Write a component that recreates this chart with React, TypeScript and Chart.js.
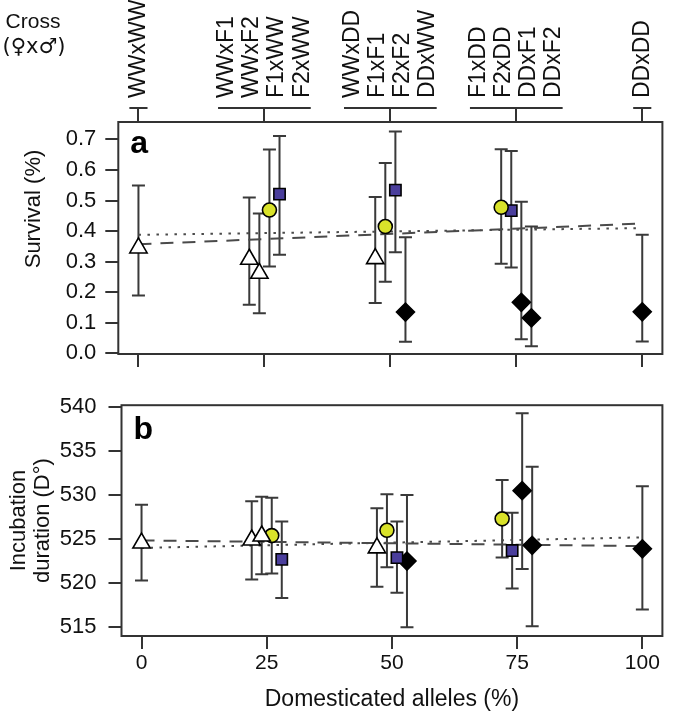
import React, { useEffect, useRef } from 'react';
import { Chart, registerables } from 'chart.js';

Chart.register(...registerables);

const FONT = "'Liberation Sans', Arial, Helvetica, sans-serif";
Chart.defaults.font.family = FONT;
Chart.defaults.color = '#111';

// ---------- data ----------
const crosses = ['WWxWW', 'WWxF1', 'WWxF2', 'F1xWW', 'F2xWW', 'WWxDD', 'F1xF1', 'F2xF2', 'DDxWW', 'F1xDD', 'F2xDD', 'DDxF1', 'DDxF2', 'DDxDD'];
const domesticated = [0, 22, 24, 26, 28, 47, 49, 51, 53, 72, 74, 76, 78, 100];
const femaleType = ['WW', 'WW', 'WW', 'F1', 'F2', 'WW', 'F1', 'F2', 'DD', 'F1', 'F2', 'DD', 'DD', 'DD'];

const survival = [0.345, 0.308, 0.262, 0.469, 0.521, 0.31, 0.415, 0.534, 0.135, 0.478, 0.467, 0.167, 0.116, 0.136];
const survivalLow = [0.189, 0.159, 0.131, 0.284, 0.323, 0.165, 0.234, 0.331, 0.038, 0.293, 0.281, 0.046, 0.023, 0.039];
const survivalHigh = [0.549, 0.51, 0.458, 0.667, 0.711, 0.512, 0.623, 0.726, 0.38, 0.668, 0.662, 0.496, 0.415, 0.388];

const incubation = [524.55, 524.9, 525.35, 525.4, 522.7, 524.0, 526.0, 522.9, 522.5, 527.3, 523.7, 530.5, 524.3, 523.9];
const incubationLow = [520.3, 520.4, 521.0, 521.1, 518.3, 519.6, 521.8, 518.9, 515.0, 522.9, 519.4, 521.6, 515.1, 517.0];
const incubationHigh = [528.9, 529.3, 529.8, 529.7, 527.0, 528.5, 530.1, 527.0, 530.0, 531.7, 528.0, 539.3, 533.2, 531.0];

const trendX = [0, 100];
const survivalDotted = [0.388, 0.41];
const survivalDashed = [0.357, 0.425];
const incubationDotted = [524.0, 525.2];
const incubationDashed = [524.85, 524.2];

const xTicks = [0, 25, 50, 75, 100];
const survivalTicks = [0, 0.1, 0.2, 0.3, 0.4, 0.5, 0.6, 0.7];
const incubationTicks = [515, 520, 525, 530, 535, 540];

const groupCenters = [0, 25, 50, 75, 100];
const groupLabels = [
  ['WWxWW'],
  ['WWxF1', 'WWxF2', 'F1xWW', 'F2xWW'],
  ['WWxDD', 'F1xF1', 'F2xF2', 'DDxWW'],
  ['F1xDD', 'F2xDD', 'DDxF1', 'DDxF2'],
  ['DDxDD'],
];

// ---------- styles ----------
const markerStyle: Record<string, { pointStyle: string; radius: number; fill: string }> = {
  WW: { pointStyle: 'triangle', radius: 10, fill: '#ffffff' },
  F1: { pointStyle: 'circle', radius: 7, fill: '#d9e22a' },
  F2: { pointStyle: 'rect', radius: 8, fill: '#4a3e9c' },
  DD: { pointStyle: 'rectRot', radius: 9, fill: '#000000' },
};
const AXIS_COLOR = '#333';

function pointDatasets(values: number[]) {
  return ['WW', 'F1', 'F2', 'DD'].map((t) => {
    const s = markerStyle[t];
    const data = domesticated
      .map((x, i) => ({ x, y: values[i], t: femaleType[i], c: crosses[i] }))
      .filter((p) => p.t === t)
      .map((p) => ({ x: p.x, y: p.y }));
    return {
      type: 'scatter' as const,
      label: t,
      data,
      pointStyle: s.pointStyle,
      pointRadius: s.radius,
      pointHoverRadius: s.radius,
      backgroundColor: s.fill,
      borderColor: '#000',
      borderWidth: 1.6,
      showLine: false,
    };
  });
}

function trendDataset(ys: number[], dash: number[]) {
  return {
    type: 'line' as const,
    label: 'trend',
    data: trendX.map((x, i) => ({ x, y: ys[i] })),
    borderColor: '#4a4a4a',
    borderWidth: 2,
    borderDash: dash,
    pointRadius: 0,
    fill: false,
    showLine: true,
    tension: 0,
  };
}

const setTicks = (values: number[]) => (scale: any) => {
  scale.ticks = values.map((v) => ({ value: v }));
};

const gridCfg = { drawOnChartArea: false, drawTicks: true, tickLength: 13, color: AXIS_COLOR, lineWidth: 2 };

const boxPlugin = {
  id: 'box',
  afterDraw(chart: any) {
    const { ctx, chartArea: a } = chart;
    ctx.save();
    ctx.strokeStyle = AXIS_COLOR;
    ctx.lineWidth = 2;
    ctx.strokeRect(a.left, a.top, a.right - a.left, a.bottom - a.top);
    ctx.restore();
  },
};

const errorBarPlugin = (lo: number[], hi: number[]) => ({
  id: 'errorBars',
  beforeDatasetsDraw(chart: any) {
    const { ctx, scales } = chart;
    const x = scales.x;
    const y = scales.y;
    ctx.save();
    ctx.strokeStyle = '#3a3a3a';
    ctx.lineWidth = 2;
    domesticated.forEach((xv, i) => {
      const px = x.getPixelForValue(xv);
      const p1 = y.getPixelForValue(lo[i]);
      const p2 = y.getPixelForValue(hi[i]);
      ctx.beginPath();
      ctx.moveTo(px, p1);
      ctx.lineTo(px, p2);
      ctx.moveTo(px - 6.5, p1);
      ctx.lineTo(px + 6.5, p1);
      ctx.moveTo(px - 6.5, p2);
      ctx.lineTo(px + 6.5, p2);
      ctx.stroke();
    });
    ctx.restore();
  },
});

const letterPlugin = (letter: string, dy: number) => ({
  id: 'panelLetter',
  afterDraw(chart: any) {
    const { ctx, chartArea: a } = chart;
    ctx.save();
    ctx.font = `bold 32px ${FONT}`;
    ctx.fillStyle = '#000';
    ctx.textAlign = 'left';
    ctx.textBaseline = 'alphabetic';
    ctx.fillText(letter, a.left + 12, a.top + dy);
    ctx.restore();
  },
});

const crossAxisPlugin = {
  id: 'crossAxis',
  afterDraw(chart: any) {
    const { ctx, chartArea: a, scales } = chart;
    const x = scales.x;
    const bracketY = a.top - 14;
    ctx.save();
    ctx.strokeStyle = AXIS_COLOR;
    ctx.lineWidth = 2;
    groupCenters.forEach((c, g) => {
      const labels = groupLabels[g];
      const half = labels.length > 1 ? 9.2 : 1.8;
      ctx.beginPath();
      ctx.moveTo(x.getPixelForValue(c - half), bracketY);
      ctx.lineTo(x.getPixelForValue(c + half), bracketY);
      ctx.stroke();
      labels.forEach((lab, j) => {
        const off = labels.length > 1 ? (j - (labels.length - 1) / 2) * 5 : 0;
        const px = x.getPixelForValue(c + off);
        ctx.save();
        ctx.translate(px, bracketY - 10);
        ctx.rotate(-Math.PI / 2);
        ctx.font = `23px ${FONT}`;
        ctx.fillStyle = '#111';
        ctx.textAlign = 'left';
        ctx.textBaseline = 'middle';
        ctx.fillText(lab, 0, 0);
        ctx.restore();
      });
    });
    ctx.fillStyle = '#111';
    ctx.textAlign = 'center';
    ctx.textBaseline = 'middle';
    ctx.font = `21px ${FONT}`;
    ctx.fillText('Cross', 33, 22);
    ctx.font = `21px 'DejaVu Sans', ${FONT}`;
    ctx.fillText('(♀x♂)', 34, 48);
    ctx.font = `22px ${FONT}`;
    ctx.translate(34, 209);
    ctx.rotate(-Math.PI / 2);
    ctx.fillText('Survival (%)', 0, 0);
    ctx.restore();
  },
};

export default function App() {
  const refA = useRef<HTMLCanvasElement>(null);
  const refB = useRef<HTMLCanvasElement>(null);

  useEffect(() => {
    const chartA = new Chart(refA.current as HTMLCanvasElement, {
      type: 'scatter',
      data: {
        datasets: [
          ...pointDatasets(survival),
          trendDataset(survivalDotted, [2.5, 6.5]),
          trendDataset(survivalDashed, [13, 9]),
        ] as any,
      },
      options: {
        responsive: false,
        animation: false,
        layout: { padding: { top: 108, right: 4, bottom: 0, left: 0 } },
        plugins: { legend: { display: false }, tooltip: { enabled: false } },
        scales: {
          x: {
            type: 'linear',
            position: 'bottom',
            min: -4,
            max: 104,
            afterBuildTicks: setTicks(xTicks),
            ticks: { callback: () => '' },
            grid: gridCfg,
            border: { display: false },
            afterFit: (s: any) => { s.height = 26; },
          },
          xTop: {
            type: 'linear',
            position: 'top',
            axis: 'x',
            min: -4,
            max: 104,
            afterBuildTicks: setTicks(xTicks),
            ticks: { callback: () => '' },
            grid: { ...gridCfg, tickLength: 14 },
            border: { display: false },
            afterFit: (s: any) => { s.height = 14; },
          },
          y: {
            type: 'linear',
            min: -0.002,
            max: 0.757,
            afterBuildTicks: setTicks(survivalTicks),
            ticks: { callback: (v: any) => Number(v).toFixed(1), padding: 9, font: { size: 22 }, color: '#111' },
            grid: gridCfg,
            border: { display: false },
            afterFit: (s: any) => { s.width = 118.3; },
          },
        } as any,
      },
      plugins: [errorBarPlugin(survivalLow, survivalHigh), boxPlugin, crossAxisPlugin, letterPlugin('a', 31)],
    });

    const chartB = new Chart(refB.current as HTMLCanvasElement, {
      type: 'scatter',
      data: {
        datasets: [
          ...pointDatasets(incubation),
          trendDataset(incubationDotted, [2.5, 6.5]),
          trendDataset(incubationDashed, [13, 9]),
        ] as any,
      },
      options: {
        responsive: false,
        animation: false,
        layout: { padding: { top: 23, right: 1.5, bottom: 0, left: 0 } },
        plugins: { legend: { display: false }, tooltip: { enabled: false } },
        scales: {
          x: {
            type: 'linear',
            position: 'bottom',
            min: -4,
            max: 104,
            afterBuildTicks: setTicks(xTicks),
            ticks: { callback: (v: any) => String(v), padding: 2, font: { size: 21 }, color: '#111' },
            grid: gridCfg,
            border: { display: false },
            title: {
              display: true,
              text: 'Domesticated alleles (%)',
              font: { size: 23 },
              color: '#111',
              padding: { top: 0, bottom: 3 },
            },
            afterFit: (s: any) => { s.height = 80; },
          },
          y: {
            type: 'linear',
            min: 514,
            max: 540.2,
            afterBuildTicks: setTicks(incubationTicks),
            ticks: { callback: (v: any) => String(v), padding: 12, font: { size: 22 }, color: '#111' },
            grid: gridCfg,
            border: { display: false },
            title: {
              display: true,
              text: ['Incubation', 'duration (D°)'],
              font: { size: 22, lineHeight: 1.1 },
              color: '#111',
              padding: { top: 7, bottom: 0 },
            },
            afterFit: (s: any) => { s.width = 121.5; },
          },
        } as any,
      },
      plugins: [errorBarPlugin(incubationLow, incubationHigh), boxPlugin, letterPlugin('b', 34)],
    });

    return () => {
      chartA.destroy();
      chartB.destroy();
    };
  }, []);

  return (
    <div style={{ position: 'absolute', left: 0, top: 0, width: 674, height: 716, background: '#fff' }}>
      <canvas ref={refA} width={674} height={380} style={{ position: 'absolute', left: 0, top: 0, display: 'block' }} />
      <canvas ref={refB} width={674} height={336} style={{ position: 'absolute', left: 0, top: 380, display: 'block' }} />
    </div>
  );
}
